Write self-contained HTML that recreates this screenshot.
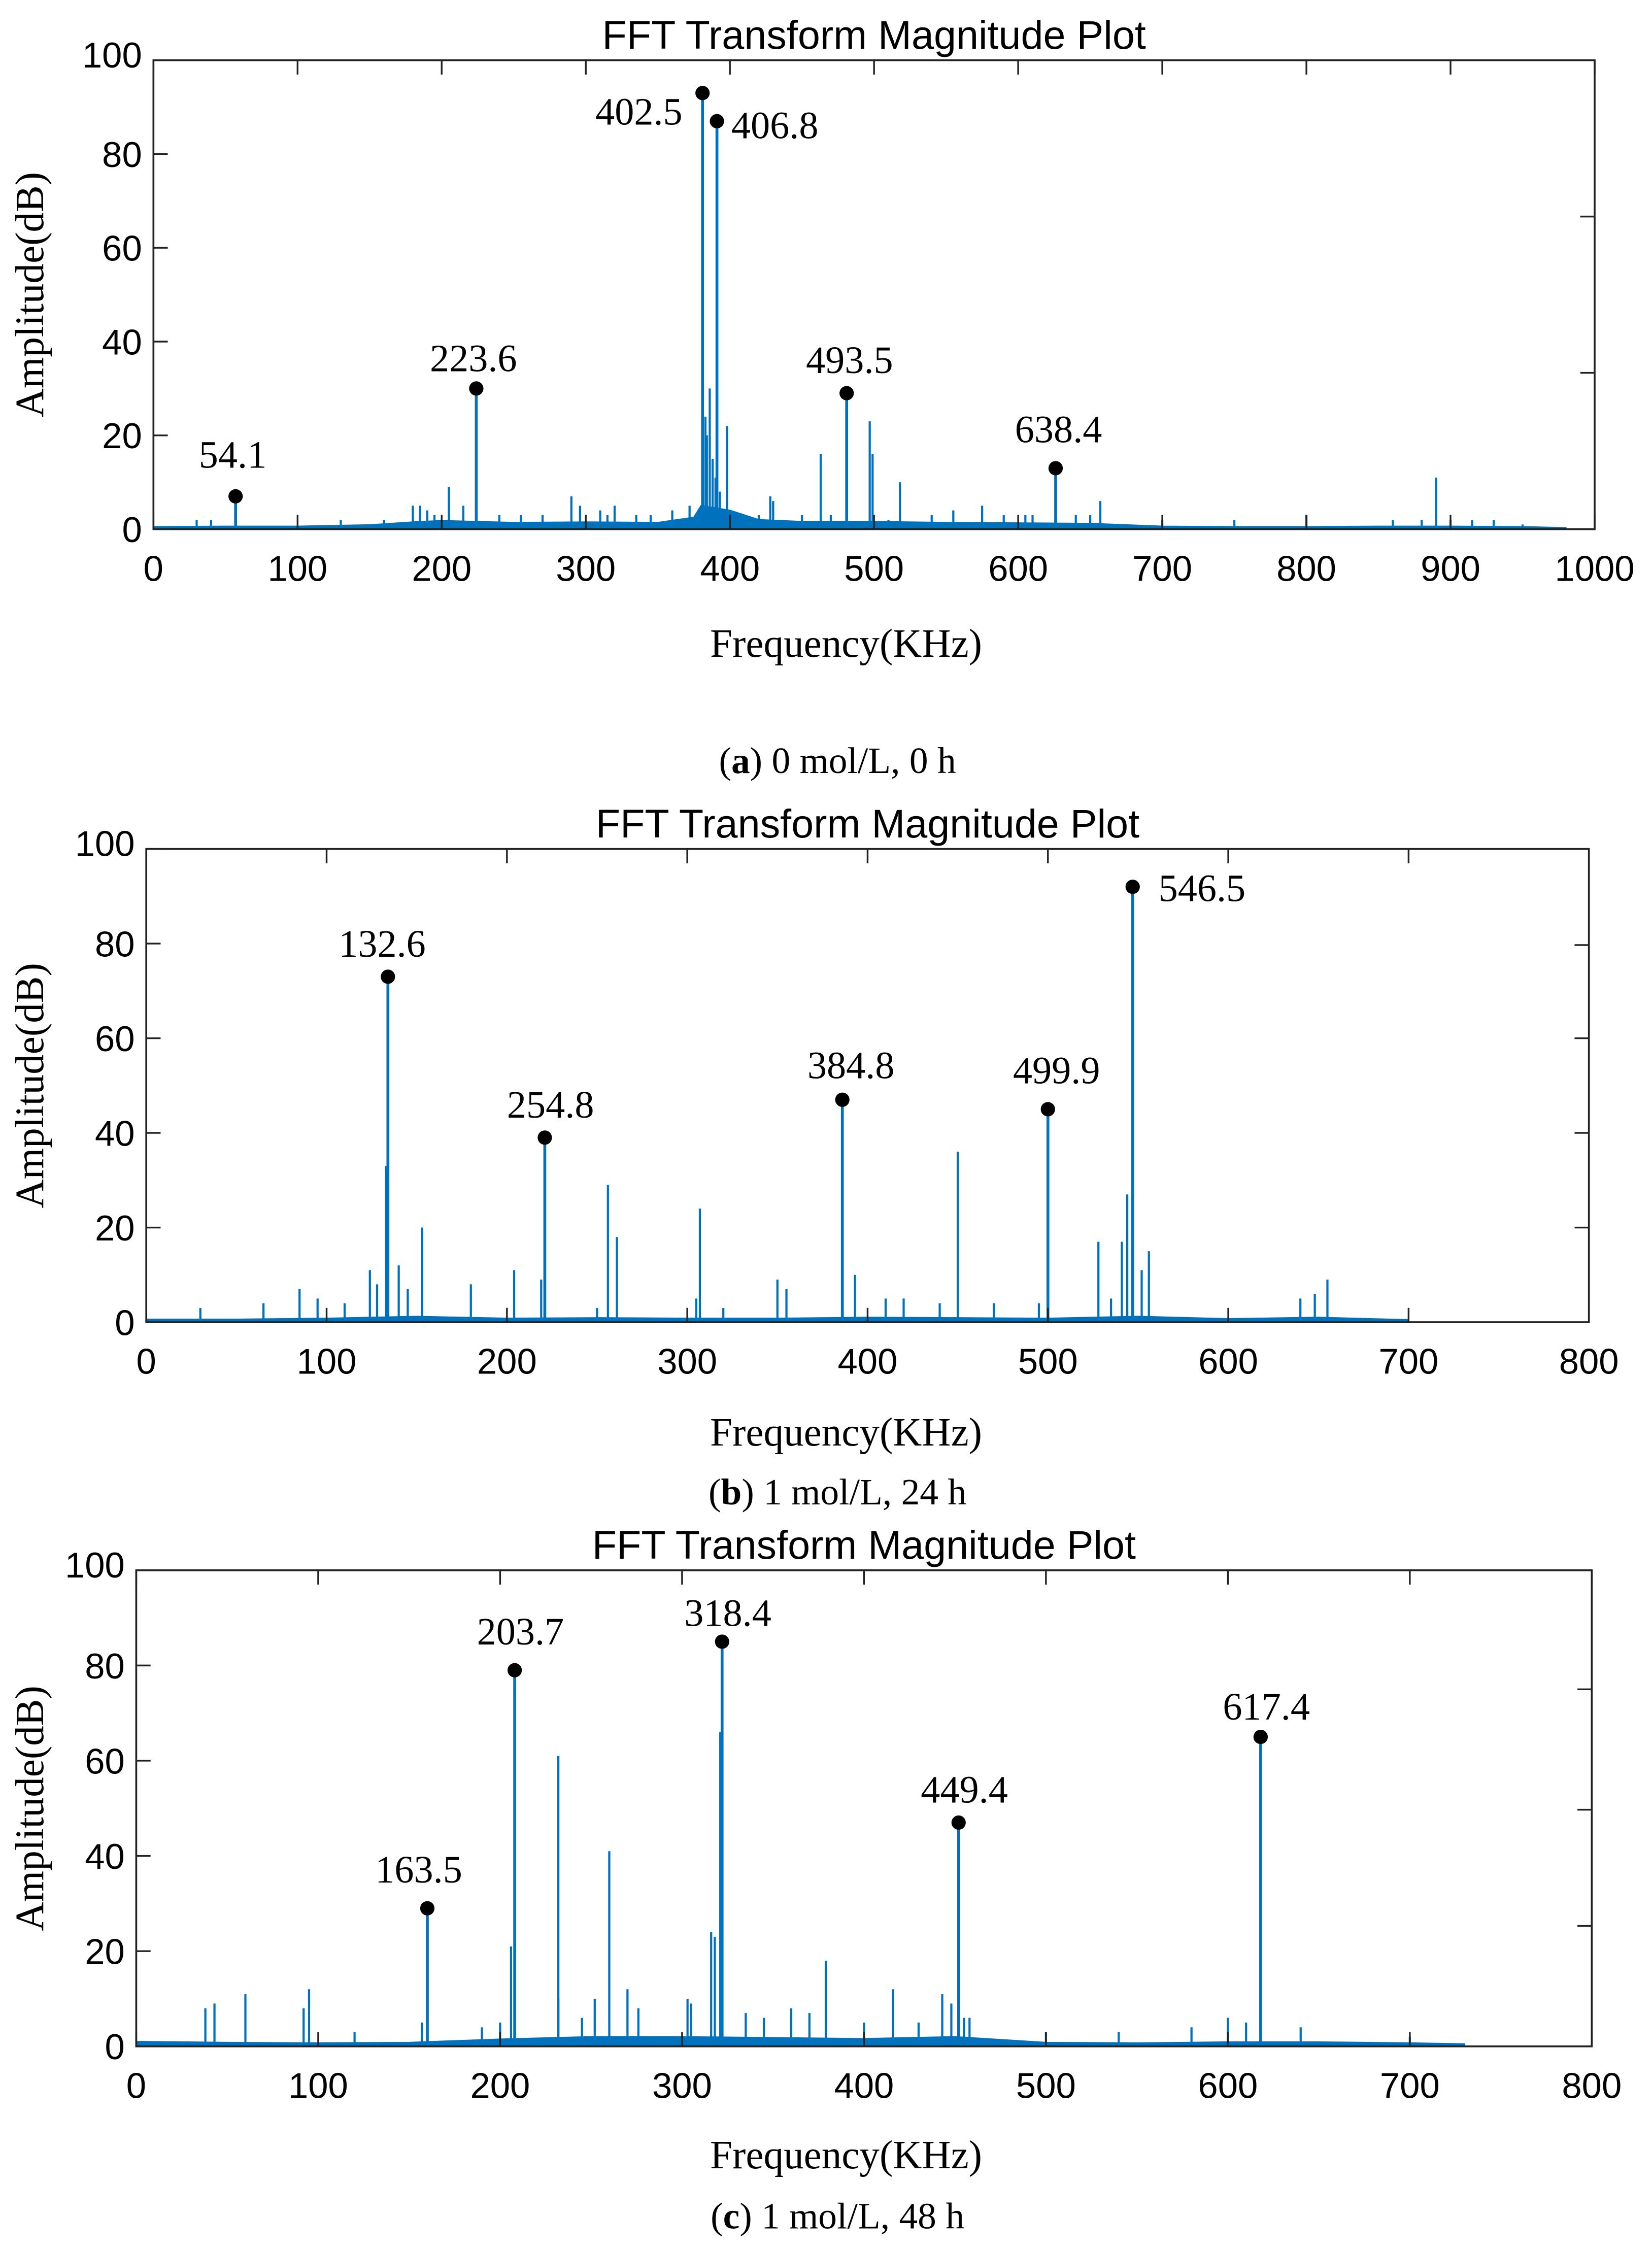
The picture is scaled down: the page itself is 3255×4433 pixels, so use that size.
<!DOCTYPE html>
<html><head><meta charset="utf-8">
<style>html,body{margin:0;padding:0;background:#fff}svg{display:block}</style>
</head><body>
<svg id="fig" xmlns="http://www.w3.org/2000/svg" width="3255" height="4433" viewBox="0 0 1152 1569" preserveAspectRatio="none"></svg>
<script>
// ---- Chart (a) data ----
const aPeakFreq = [57, 224, 381, 391, 481, 626];
const aPeakAmp = [7, 30, 93, 87, 29, 13];
const aPeakLabel = ["54.1", "223.6", "402.5", "406.8", "493.5", "638.4"];
const aSpikeFreq = [386, 383, 384, 388, 390, 393, 398, 463, 497, 499, 518, 890, 205, 657, 428, 430, 290, 296, 180, 185, 190, 372, 360, 575, 320, 240, 255, 310, 315, 450, 540, 555, 605, 610, 700, 800, 860, 915, 930, 30, 40, 130, 160, 215, 195, 270, 335, 345, 420, 470, 510, 590, 640, 650, 750, 880, 900, 950];
const aSpikeAmp = [30, 24, 20, 15, 11, 8, 22, 16, 23, 16, 10, 11, 9, 6, 7, 6, 7, 5, 5, 5, 4, 5, 4, 5, 5, 3, 3, 4, 3, 3, 3, 4, 3, 3, 2, 3, 2, 2, 2, 2, 2, 2, 2, 5, 3, 3, 3, 3, 3, 3, 2, 3, 3, 3, 2, 2, 2, 1];
const aNoiseFreq = [0, 50, 100, 150, 180, 200, 250, 300, 350, 375, 380, 400, 420, 450, 500, 550, 600, 650, 700, 750, 800, 850, 900, 950, 980];
const aNoiseAmp = [0.5, 0.6, 0.6, 0.9, 1.5, 1.8, 1.4, 1.5, 1.4, 2.5, 5, 4, 2, 1.6, 1.6, 1.4, 1.3, 1.2, 0.6, 0.5, 0.5, 0.6, 0.6, 0.5, 0.3];
const aXTicks = [0, 100, 200, 300, 400, 500, 600, 700, 800, 900, 1000];
// ---- Chart (b) data ----
const bPeakFreq = [134, 221, 386, 500, 547];
const bPeakAmp = [73, 39, 47, 45, 92];
const bPeakLabel = ["132.6", "254.8", "384.8", "499.9", "546.5"];
const bSpikeFreq = [133, 153, 256, 261, 307, 450, 528, 541, 544, 552, 556, 124, 204, 219, 180, 85, 393, 350, 655, 140, 128, 145, 65, 95, 110, 305, 355, 410, 420, 440, 470, 495, 535, 640, 648, 30, 250, 320];
const bSpikeAmp = [33, 20, 29, 18, 24, 36, 17, 17, 27, 11, 15, 11, 11, 9, 8, 7, 10, 9, 9, 12, 8, 7, 4, 5, 4, 5, 7, 5, 5, 4, 4, 4, 5, 5, 6, 3, 3, 3];
const bNoiseFreq = [0, 50, 100, 150, 200, 250, 300, 350, 400, 450, 500, 550, 600, 650, 700];
const bNoiseAmp = [0.6, 0.6, 0.8, 1.2, 0.8, 0.9, 0.8, 0.8, 1, 0.9, 0.8, 1.2, 0.7, 1, 0.5];
const bXTicks = [0, 100, 200, 300, 400, 500, 600, 700, 800];
// ---- Chart (c) data ----
const cPeakFreq = [160, 208, 322, 452, 618];
const cPeakAmp = [29, 79, 85, 47, 65];
const cPeakLabel = ["163.5", "203.7", "318.4", "449.4", "617.4"];
const cSpikeFreq = [232, 260, 206, 321, 316, 318, 379, 416, 443, 38, 43, 60, 92, 95, 270, 252, 303, 305, 232, 245, 276, 335, 345, 360, 370, 400, 430, 448, 455, 458, 500, 540, 580, 600, 610, 640, 700, 120, 157, 190, 200];
const cSpikeAmp = [61, 41, 21, 66, 24, 23, 18, 12, 11, 8, 9, 11, 8, 12, 12, 10, 10, 9, 10, 6, 8, 7, 6, 8, 7, 5, 5, 9, 6, 6, 3, 3, 4, 6, 5, 4, 2, 3, 5, 4, 5];
const cNoiseFreq = [0, 50, 100, 150, 200, 250, 300, 350, 400, 450, 500, 550, 600, 650, 700, 730];
const cNoiseAmp = [1, 0.8, 0.7, 0.8, 1.5, 2, 2, 1.8, 1.6, 2, 0.8, 0.7, 0.9, 0.9, 0.7, 0.5];
const cXTicks = [0, 100, 200, 300, 400, 500, 600, 700, 800];
const yTicks = [0, 20, 40, 60, 80, 100];

const NS = "http://www.w3.org/2000/svg";
const fig = document.getElementById('fig');
function mk(tag, attrs, parent, txt) {
  const e = document.createElementNS(NS, tag);
  for (const k in attrs) e.setAttribute(k, attrs[k]);
  if (txt !== undefined) e.textContent = txt;
  (parent || fig).appendChild(e);
  return e;
}
const BLUE = "#0072BD";
function chart(id, box, xmax, xTicks, peakF, peakA, peakL, spF, spA, nF, nA, rightTicks, labelOffsets, caption) {
  const g = mk('g', {});
  
  
  const L = box.l, R = box.r, T = box.t, B = box.b;
  const xs = f => L + (f / xmax) * (R - L);
  const ys = a => B - (a / 100) * (B - T);
  const t = mk('text', {x: (L + R) / 2, y: T - 8, 'text-anchor': 'middle', 'font-family': 'Liberation Sans, sans-serif', 'font-size': 28}, g, 'FFT Transform Magnitude Plot');
  
  
  let d = '';
  nF.forEach((f, i) => { d += (i ? 'L' : 'M') + xs(f).toFixed(2) + ' ' + ys(nA[i]).toFixed(2); });
  d += 'L' + xs(nF[nF.length - 1]).toFixed(2) + ' ' + B + 'L' + xs(nF[0]).toFixed(2) + ' ' + B + 'Z';
  const base = mk('path', {d: d, fill: BLUE, stroke: BLUE, 'stroke-width': 1}, g);
  
  
  spF.forEach((f, i) => {
    const l = mk('line', {x1: xs(f), x2: xs(f), y1: B, y2: ys(spA[i]), stroke: BLUE, 'stroke-width': 1.5}, g);
    
    
  });
  peakF.forEach((f, i) => {
    const l = mk('line', {x1: xs(f), x2: xs(f), y1: B, y2: ys(peakA[i]), stroke: BLUE, 'stroke-width': 2}, g);
    
    
    const c = mk('circle', {cx: xs(f), cy: ys(peakA[i]), r: 5, fill: '#000'}, g);
    
    
    const o = labelOffsets[i];
    const tx = mk('text', {x: xs(f) + o[0], y: ys(peakA[i]) + o[1], 'text-anchor': o[2], 'font-family': 'Liberation Serif, serif', 'font-size': 27}, g, peakL[i]);
    
    
  });
  const bx = mk('rect', {x: L, y: T, width: R - L, height: B - T, fill: 'none', stroke: '#222', 'stroke-width': 1.3}, g);
  
  
  xTicks.forEach(v => {
    const x = xs(v);
    mk('line', {x1: x, x2: x, y1: B, y2: B - 10, stroke: '#222', 'stroke-width': 1.2}, g);
    mk('line', {x1: x, x2: x, y1: T, y2: T + 10, stroke: '#222', 'stroke-width': 1.2}, g);
    const tl = mk('text', {x: x, y: B + 36, 'text-anchor': 'middle', 'font-family': 'Liberation Sans, sans-serif', 'font-size': 25}, g, String(v));
    
    
  });
  yTicks.forEach(v => {
    const y = ys(v);
    mk('line', {x1: L, x2: L + 10, y1: y, y2: y, stroke: '#222', 'stroke-width': 1.2}, g);
    const tl = mk('text', {x: L - 8, y: y + 9 - (v === 100 ? 4 : 0), 'text-anchor': 'end', 'font-family': 'Liberation Sans, sans-serif', 'font-size': 25}, g, String(v));
    
    
  });
  rightTicks.forEach(y => { mk('line', {x1: R, x2: R - 10, y1: y, y2: y, stroke: '#222', 'stroke-width': 1.2}, g); });
  const yl = mk('text', {x: 0, y: 0, transform: `translate(30 ${(T + B) / 2}) rotate(-90)`, 'text-anchor': 'middle', 'font-family': 'Liberation Serif, serif', 'font-size': 28}, g, 'Amplitude(dB)');
  
  
  const xl = mk('text', {x: 590, y: box.xl, 'text-anchor': 'middle', 'font-family': 'Liberation Serif, serif', 'font-size': 28}, g, 'Frequency(KHz)');
  
  
  const cp = mk('text', {x: 584, y: box.cap, 'text-anchor': 'middle', 'font-family': 'Liberation Serif, serif', 'font-size': 26}, g);
  
  
  mk('tspan', {}, cp, '(');
  mk('tspan', {'font-weight': 'bold'}, cp, caption[0]);
  mk('tspan', {}, cp, ') ' + caption[1]);
}
chart('chart-a', {l: 107, r: 1112, t: 42, b: 369, xl: 458, cap: 539}, 1000, aXTicks, aPeakFreq, aPeakAmp, aPeakLabel, aSpikeFreq, aSpikeAmp, aNoiseFreq, aNoiseAmp,
  [151, 260],
  [[-2, -20, 'middle'], [-2, -12, 'middle'], [-14, 22, 'end'], [10, 12, 'start'], [2, -14, 'middle'], [2, -18, 'middle']], ['a', '0 mol/L, 0 h']);
chart('chart-b', {l: 102, r: 1108, t: 592, b: 922, xl: 1008, cap: 1049}, 800, bXTicks, bPeakFreq, bPeakAmp, bPeakLabel, bSpikeFreq, bSpikeAmp, bNoiseFreq, bNoiseAmp,
  [659, 724, 790, 856],
  [[-4, -14, 'middle'], [4, -14, 'middle'], [6, -15, 'middle'], [6, -18, 'middle'], [18, 10, 'start']], ['b', '1 mol/L, 24 h']);
chart('chart-c', {l: 95, r: 1110, t: 1095, b: 1427, xl: 1512, cap: 1554}, 800, cXTicks, cPeakFreq, cPeakAmp, cPeakLabel, cSpikeFreq, cSpikeAmp, cNoiseFreq, cNoiseAmp,
  [1178, 1262, 1343],
  [[-6, -18, 'middle'], [4, -18, 'middle'], [4, -11, 'middle'], [4, -14, 'middle'], [4, -12, 'middle']], ['c', '1 mol/L, 48 h']);
</script>
</body></html>
